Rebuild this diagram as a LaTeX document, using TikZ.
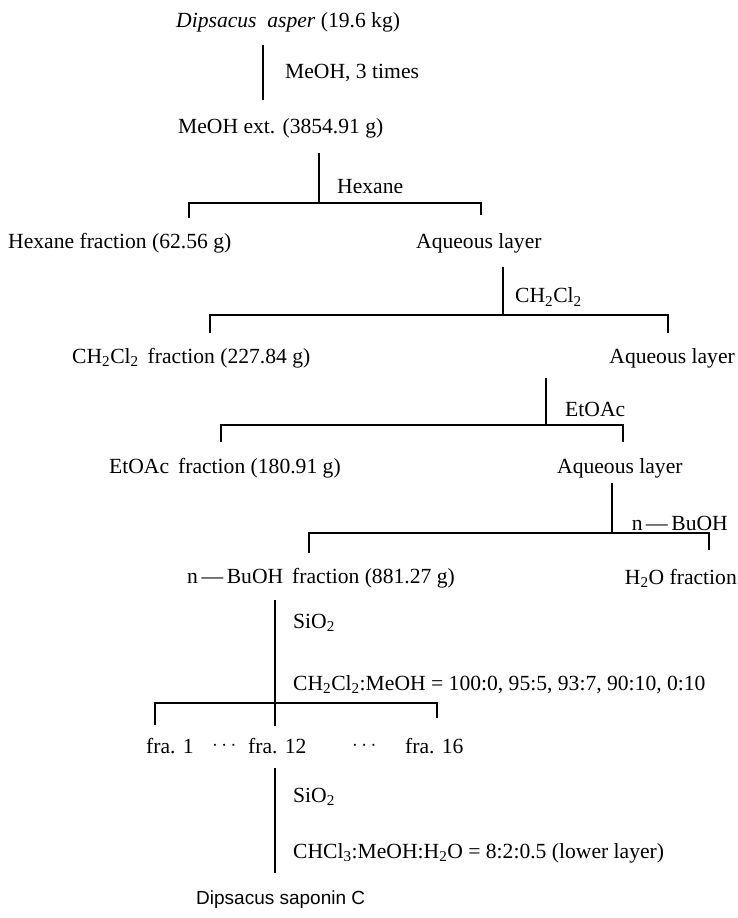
\documentclass[tikz,border=0pt]{standalone}
\usepackage{fontspec}
\setmainfont{Liberation Serif}
\newfontfamily\labelsans{Liberation Sans}
\usetikzlibrary{positioning}

\tikzset{
  sample/.style={anchor=west,inner sep=0pt,font=\fontsize{21.6}{25}\selectfont},
  reagent/.style={anchor=west,inner sep=0pt,font=\fontsize{21.6}{25}\selectfont},
  link/.style={line width=1.3pt}
}

\begin{document}
\begin{tikzpicture}[x=1pt,y=-1pt]
  \useasboundingbox (0,0) rectangle (738,918);

  % samples
  \node[sample] (Plant)  at (176,22)  {\textit{Dipsacus\ \ asper} (19.6 kg)};
  \node[sample] (Ext)    at (178,128) {MeOH ext. (3854.91 g)};
  \node[sample] (Hex)    at (8,243)   {Hexane fraction (62.56 g)};
  \node[sample] (AqA)    at (416,243) {Aqueous layer};
  \node[sample] (Dcm)    at (72,358)  {CH\textsubscript{2}Cl\textsubscript{2}\ \,fraction (227.84 g)};
  \node[sample,anchor=east] (AqB) at (735,358) {Aqueous layer};
  \node[sample] (Eta)    at (109,468) {EtOAc\ \,fraction (180.91 g)};
  \node[sample] (AqC)    at (557,468) {Aqueous layer};
  \node[sample] (But)    at (187,578) {n\,---\,BuOH\ \,fraction (881.27 g)};
  \node[sample,anchor=east] (Wat) at (737,578) {H\textsubscript{2}O fraction};
  \node[sample] (FrA)    at (146,746) {fra. 1};
  \node[sample] (DotA)   at (212,746) {$\cdots$};
  \node[sample] (FrL)    at (248,746) {fra. 12};
  \node[sample] (DotB)   at (352,746) {$\cdots$};
  \node[sample] (FrP)    at (405,746) {fra. 16};
  \node[sample,font=\labelsans\fontsize{19}{22}\selectfont] (Sap) at (196,900) {Dipsacus saponin C};

  % reagents
  \node[reagent] (ReA) at (285,73)  {MeOH, 3 times};
  \node[reagent] (ReB) at (337,187) {Hexane};
  \node[reagent] (ReC) at (515,297) {CH\textsubscript{2}Cl\textsubscript{2}};
  \node[reagent] (ReD) at (565,409) {EtOAc};
  \node[reagent,anchor=east] (ReE) at (728,523) {n\,---\,BuOH};
  \node[reagent] (ReF) at (293,623) {SiO\textsubscript{2}};
  \node[reagent] (ReG) at (293,685) {CH\textsubscript{2}Cl\textsubscript{2}:MeOH = 100:0, 95:5, 93:7, 90:10, 0:10};
  \node[reagent] (ReH) at (293,797) {SiO\textsubscript{2}};
  \node[reagent] (ReI) at (293,853) {CHCl\textsubscript{3}:MeOH:H\textsubscript{2}O = 8:2:0.5 (lower layer)};

  % stems and bars
  \coordinate (s1) at (263,45);  \coordinate (e1) at (263,100);
  \coordinate (s2) at (319,153); \coordinate (e2) at (319,203);
  \coordinate (l2) at (189,203); \coordinate (r2) at (481,203);
  \coordinate (s3) at (503,267); \coordinate (e3) at (503,315);
  \coordinate (l3) at (210,315); \coordinate (r3) at (668,315);
  \coordinate (s4) at (546,378); \coordinate (e4) at (546,425);
  \coordinate (l4) at (221,425); \coordinate (r4) at (623,425);
  \coordinate (s5) at (612,483); \coordinate (e5) at (612,533);
  \coordinate (l5) at (309,533); \coordinate (r5) at (709,533);
  \coordinate (s6) at (275,600); \coordinate (e6) at (275,726);
  \coordinate (l6) at (155,703); \coordinate (r6) at (437,703);
  \coordinate (s7) at (275,768); \coordinate (e7) at (275,873);

  \draw[link] (s1) -- (e1);
  \draw[link] (s2) -- (e2);
  \draw[link] (l2) ++(0,15) -- (l2) -- (r2) -- ++(0,12);
  \draw[link] (s3) -- (e3);
  \draw[link] (l3) ++(0,18) -- (l3) -- (r3) -- ++(0,18);
  \draw[link] (s4) -- (e4);
  \draw[link] (l4) ++(0,17) -- (l4) -- (r4) -- ++(0,17);
  \draw[link] (s5) -- (e5);
  \draw[link] (l5) ++(0,20) -- (l5) -- (r5) -- ++(0,17);
  \draw[link] (s6) -- (e6);
  \draw[link] (l6) ++(0,22) -- (l6) -- (r6) -- ++(0,15);
  \draw[link] (s7) -- (e7);
\end{tikzpicture}
\end{document}
